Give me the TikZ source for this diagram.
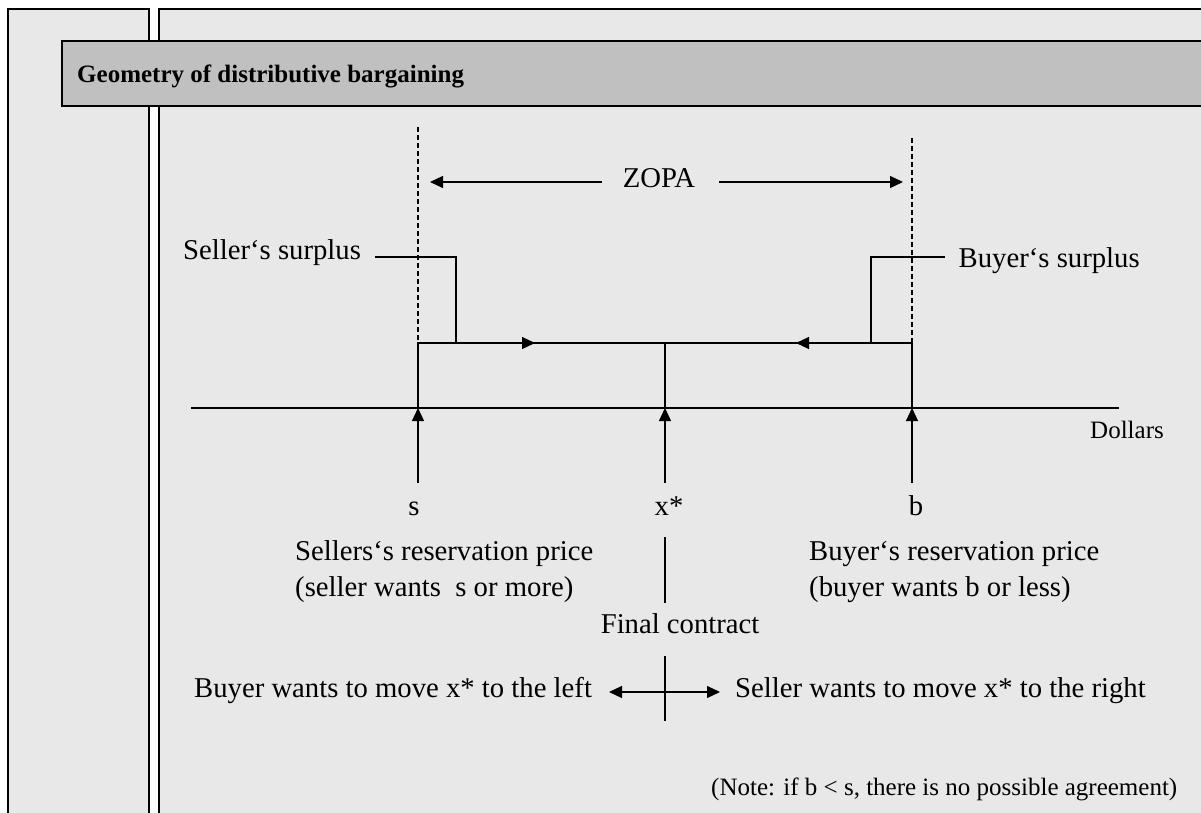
\documentclass[tikz,border=0pt]{standalone}
\usepackage{fontspec}
\setmainfont{Liberation Serif}
\usetikzlibrary{arrows.meta}
\definecolor{panelgray}{HTML}{E8E8E8}
\definecolor{headgray}{HTML}{C0C0C0}
\begin{document}
\begin{tikzpicture}[x=1pt,y=-1pt,
  line/.style={line width=1.2pt},
  tip/.style={-{Triangle[length=13pt,width=12pt]}},
  tips/.style={{Triangle[length=13pt,width=12pt]}-{Triangle[length=13pt,width=12pt]}},
  guide/.style={line width=1.1pt, dash pattern=on 5pt off 3pt},
  txt/.style={inner sep=0pt, anchor=base west, font=\fontsize{28.7}{36}\selectfont},
  lbl/.style={inner sep=0pt, anchor=base, font=\fontsize{28.7}{36}\selectfont},
  small/.style={inner sep=0pt, anchor=base west, font=\fontsize{25}{30}\selectfont},
  panel/.style={fill=panelgray, draw=black, line width=1.5pt},
]
\useasboundingbox (0,0) rectangle (1201,813);
\clip (0,0) rectangle (1201,813);
\fill[white] (0,0) rectangle (1201,813);

% page frame
\draw[panel] (8,9) rectangle (149,840);
\draw[panel] (159,9) rectangle (1230,840);
\draw[fill=headgray, line width=1.5pt] (62,41) rectangle (1230,106);
\node[inner sep=0pt, anchor=base west, font=\bfseries\fontsize{25}{30}\selectfont]
  (title) at (77,83) {Geometry of distributive bargaining};

% key points on the price axis
\coordinate (sL) at (418,408);
\coordinate (xL) at (665,408);
\coordinate (bL) at (912,408);
\coordinate (sT) at (418,343);
\coordinate (xT) at (665,343);
\coordinate (bT) at (912,343);
\coordinate (axL) at (191,408);
\coordinate (axR) at (1119,408);

% axis
\draw[line] (axL) -- (axR);
\node[small] (dollars) at (1090,438) {Dollars};

% bargaining range limits
\coordinate (sTop) at (418,127);
\coordinate (bTop) at (912,138);
\draw[guide] (sTop) -- (sT);
\draw[guide] (bTop) -- (bT);

% ZOPA span
\node[lbl] (zopa) at (659,188) {ZOPA};
\coordinate (zL) at (430,182);
\coordinate (zR) at (903,182);
\draw[line,tip] ([xshift=-21pt]zopa.west |- zL) -- (zL);
\draw[line,tip] ([xshift=24pt]zopa.east |- zR) -- (zR);

% surplus frame
\draw[line] (sL) -- (sT) -- (bT) -- (bL);
\draw[line] (xT) -- (xL);

% seller's surplus callout
\node[txt] (sellsur) at (183,259) {Seller‘s surplus};
\coordinate (sellA) at (375,257);
\coordinate (sellB) at (456,343);
\coordinate (sellC) at (535,343);
\draw[line] (sellA) -| (sellB);
\draw[line,tip] (sellB) -- (sellC);

% buyer's surplus callout
\node[txt] (buysur) at (958.5,267) {Buyer‘s surplus};
\coordinate (buyA) at (945,257);
\coordinate (buyB) at (871,343);
\coordinate (buyC) at (796,343);
\draw[line] (buyA) -| (buyB);
\draw[line,tip] (buyB) -- (buyC);

% price markers
\node[lbl] (slab) at (414,515) {s};
\node[lbl] (xlab) at (669,515) {x*};
\node[lbl] (blab) at (916,515) {b};
\draw[line,tip] (418,483) -- (sL);
\draw[line,tip] (665,483) -- (xL);
\draw[line,tip] (912,483) -- (bL);

% reservation prices
\node[txt] (sres1) at (295,560) {Sellers‘s reservation price};
\node[txt] (sres2) at (295,596) {(seller wants\ \ s or more)};
\node[txt] (bres1) at (809,560) {Buyer‘s reservation price};
\node[txt] (bres2) at (809,596) {(buyer wants b or less)};

% final contract
\coordinate (fcA) at (665,537);
\coordinate (fcB) at (665,603);
\draw[line] (fcA) -- (fcB);
\node[txt] (final) at (600.6,633) {Final contract};

% pull in both directions
\coordinate (crA) at (665,656);
\coordinate (crB) at (665,721);
\draw[line] (crA) -- (crB);
\node[txt] (buymove) at (194,697) {Buyer wants to move x* to the left};
\node[txt] (sellmove) at (735,697) {Seller wants to move x* to the right};
\coordinate (pL) at (609,692);
\coordinate (pR) at (720,692);
\draw[line,tips] (pL) -- (pR);

% note
\node[small] (note) at (711,795) {(Note: if b < s, there is no possible agreement)};
\end{tikzpicture}
\end{document}
